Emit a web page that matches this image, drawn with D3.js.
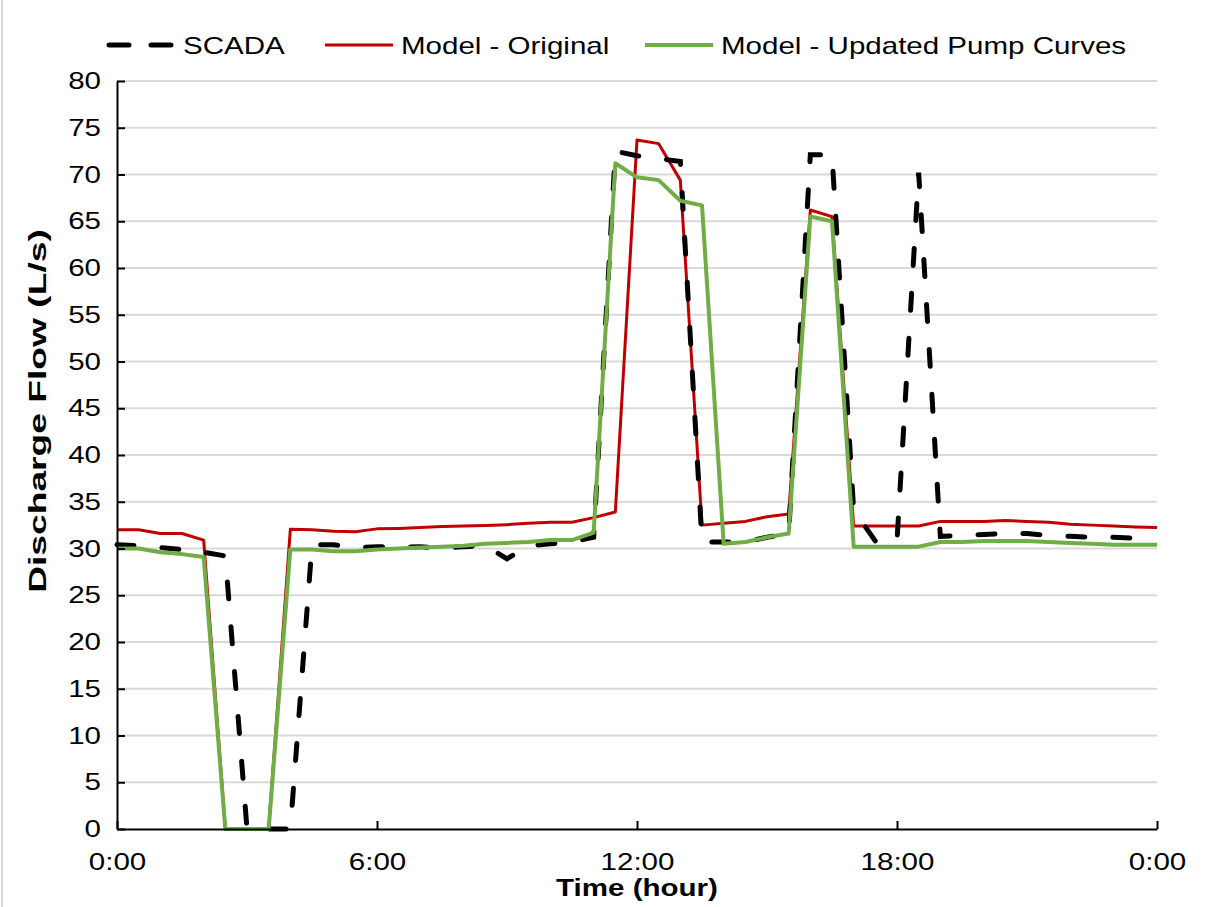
<!DOCTYPE html>
<html>
<head>
<meta charset="utf-8">
<script src="https://cdn.jsdelivr.net/npm/d3@7/dist/d3.min.js"></script>
<style>
body { margin: 0; background: #fff; }
text { font-family: "Liberation Sans", Arial, sans-serif; }
</style>
</head>
<body>
<div id="container"></div>
<script>

// time of day in hours, one reading every half hour
var hours = [0, 0.5, 1, 1.5, 2, 2.5, 3, 3.5, 4, 4.5,
	5, 5.5, 6, 6.5, 7, 7.5, 8, 8.5, 9, 9.5,
	10, 10.5, 11, 11.5, 12, 12.5, 13, 13.5, 14, 14.5,
	15, 15.5, 16, 16.5, 17, 17.5, 18, 18.5, 19, 19.5,
	20, 20.5, 21, 21.5, 22, 22.5, 23, 23.5, 24];

var scada = [30.4, 30.3, 30.1, 29.9, 29.6, 29.2, 0, 0, 0, 30.4,
	30.4, 30.1, 30.2, 30.1, 30.2, 30.0, 30.2, 30.3, 28.9, 30.3,
	30.5, 30.7, 31.2, 72.5, 72.0, 71.7, 71.4, 30.7, 30.7, 30.7,
	31.2, 31.6, 72.1, 72.1, 34.1, 30.8, 30.8, 70.2, 31.3, 31.4,
	31.5, 31.6, 31.6, 31.4, 31.3, 31.2, 31.2, 31.1, 31.1];

var modelOriginal = [32.0, 32.0, 31.6, 31.6, 30.9, 0, 0, 0, 32.05, 32.0,
	31.85, 31.8, 32.1, 32.15, 32.25, 32.35, 32.4, 32.45, 32.55, 32.7,
	32.8, 32.8, 33.3, 33.9, 73.7, 73.3, 69.4, 32.5, 32.7, 32.9,
	33.4, 33.7, 66.2, 65.5, 32.4, 32.4, 32.4, 32.4, 32.9, 32.9,
	32.9, 33.0, 32.9, 32.8, 32.6, 32.5, 32.4, 32.3, 32.25];

var modelUpdated = [30.0, 30.0, 29.6, 29.4, 29.1, 0, 0, 0, 29.9, 29.9,
	29.7, 29.7, 29.9, 30.0, 30.1, 30.2, 30.3, 30.5, 30.6, 30.7,
	30.9, 30.9, 31.7, 71.2, 69.7, 69.4, 67.2, 66.7, 30.5, 30.7,
	31.2, 31.6, 65.5, 65.0, 30.2, 30.2, 30.2, 30.2, 30.7, 30.7,
	30.8, 30.8, 30.8, 30.7, 30.6, 30.5, 30.4, 30.4, 30.4];

var seriesNames = ["SCADA", "Model - Original", "Model - Updated Pump Curves"];
var xTickValues = [0, 6, 12, 18, 24];
var xTickLabels = ["0:00", "6:00", "12:00", "18:00", "0:00"];
var yTickValues = [0, 5, 10, 15, 20, 25, 30, 35, 40, 45, 50, 55, 60, 65, 70, 75, 80];

var w = 1209, h = 907;
var m = [81, 52, 78, 117]; //top right bottom left
var sx = 1.23; // the source text is drawn wide, stretch glyphs sideways

var svg = d3.select("#container").append("svg").attr("width", w).attr("height", h);

// thin frame line on the left edge
svg.append("line")
	.attr("x1", 2).attr("x2", 2)
	.attr("y1", 0).attr("y2", h)
	.attr("stroke", "#d9d9d9")
	.attr("stroke-width", 2);

var x = d3.scaleLinear().domain([0, 24]).range([m[3], w - m[1]]);
var y = d3.scaleLinear().domain([0, 80]).range([h - m[2], m[0]]);

// gridlines
svg.selectAll(".grid")
	.data(yTickValues.slice(1))
	.enter()
	.append("line")
	.attr("class", "grid")
	.attr("x1", x(0))
	.attr("x2", x(24))
	.attr("y1", function(d) { return y(d); })
	.attr("y2", function(d) { return y(d); })
	.attr("stroke", "#d9d9d9")
	.attr("stroke-width", 2);

var line = d3.line()
	.x(function(d, i) { return x(hours[i]); })
	.y(function(d) { return y(d); });

svg.append("path")
	.datum(modelOriginal)
	.attr("d", line)
	.attr("fill", "none")
	.attr("stroke", "#c00000")
	.attr("stroke-width", 3)
	.attr("stroke-linejoin", "round");

svg.append("path")
	.datum(scada)
	.attr("d", line)
	.attr("fill", "none")
	.attr("stroke", "#000")
	.attr("stroke-width", 5)
	.attr("stroke-linecap", "round")
	.attr("stroke-dasharray", "17,28");

svg.append("path")
	.datum(modelUpdated)
	.attr("d", line)
	.attr("fill", "none")
	.attr("stroke", "#70ad47")
	.attr("stroke-width", 4)
	.attr("stroke-linejoin", "round");

// axes
var yAxis = svg.append("g")
	.attr("transform", "translate(" + x(0) + ",0)")
	.call(d3.axisLeft(y).tickValues(yTickValues).tickSizeInner(-8).tickSizeOuter(0).tickPadding(13));

var xAxis = svg.append("g")
	.attr("transform", "translate(0," + y(0) + ")")
	.call(d3.axisBottom(x).tickValues(xTickValues).tickSizeInner(-8).tickSizeOuter(0).tickPadding(24)
		.tickFormat(function(d, i) { return xTickLabels[i]; }));

svg.selectAll(".domain").attr("stroke", "#000").attr("stroke-width", 2);
svg.selectAll(".tick line").attr("stroke", "#000").attr("stroke-width", 2);
svg.selectAll(".tick text")
	.attr("fill", "#000")
	.attr("transform", "scale(" + sx + ",1)")
	.style("font-size", "24px")
	.style("font-family", "'Liberation Sans', Arial, sans-serif");

// axis titles
svg.append("text")
	.attr("transform", "translate(46,411) rotate(-90) scale(1.55,1)")
	.attr("text-anchor", "middle")
	.style("font-size", "24px")
	.style("font-weight", "bold")
	.text("Discharge Flow (L/s)");

svg.append("text")
	.attr("transform", "translate(" + x(12) + ",896) scale(" + sx + ",1)")
	.attr("text-anchor", "middle")
	.style("font-size", "24px")
	.style("font-weight", "bold")
	.text("Time (hour)");

// legend
var legendX = [107, 325, 645];
var legendStyle = [
	{ color: "#000", width: 5, dash: "20,22" },
	{ color: "#c00000", width: 3, dash: null },
	{ color: "#70ad47", width: 4, dash: null }
];
var legend = svg.selectAll(".legend")
	.data(seriesNames)
	.enter()
	.append("g")
	.attr("class", "legend")
	.attr("transform", function(d, i) { return "translate(" + legendX[i] + ",45)"; });

legend.append("line")
	.attr("x1", function(d, i) { return i == 0 ? 2 : 0; })
	.attr("x2", function(d, i) { return i == 0 ? 66 : 68; })
	.attr("y1", 0).attr("y2", 0)
	.attr("stroke", function(d, i) { return legendStyle[i].color; })
	.attr("stroke-width", function(d, i) { return legendStyle[i].width; })
	.attr("stroke-linecap", function(d, i) { return i == 0 ? "round" : "butt"; })
	.attr("stroke-dasharray", function(d, i) { return legendStyle[i].dash; });

legend.append("text")
	.attr("transform", "translate(76,8.5) scale(" + sx + ",1)")
	.style("font-size", "24px")
	.text(function(d) { return d; });

</script>
</body>
</html>
